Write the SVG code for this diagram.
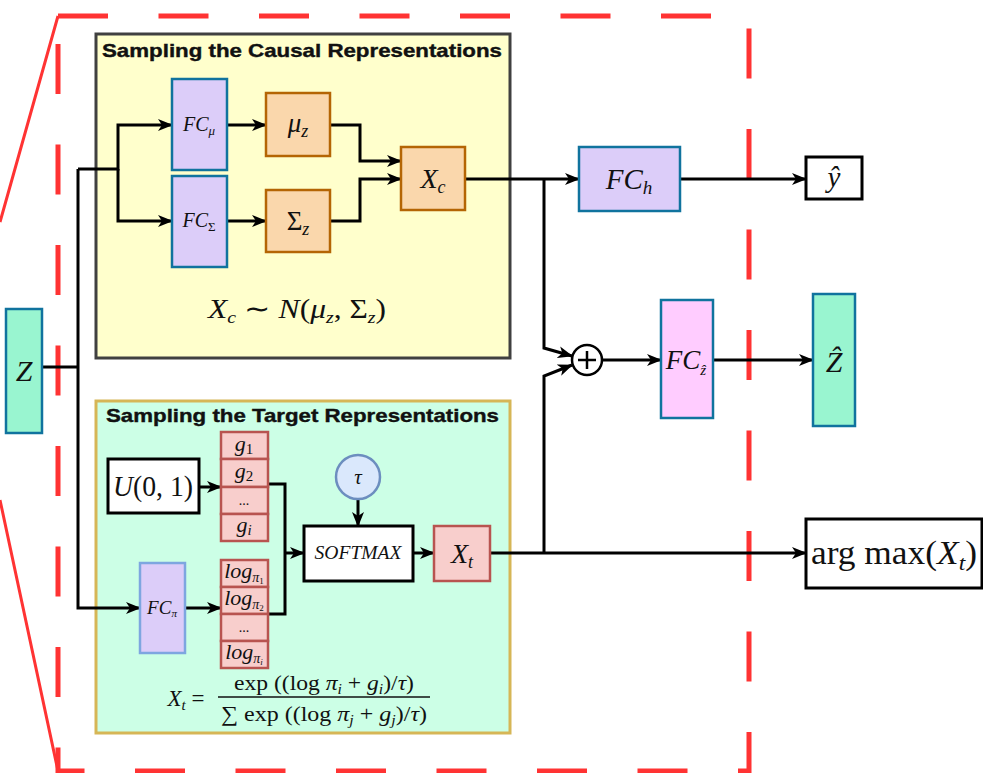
<svg xmlns="http://www.w3.org/2000/svg" width="983" height="773" viewBox="0 0 983 773">
<defs>
<style>
.m{font-family:"Liberation Serif",serif;font-style:italic;fill:#111;text-anchor:middle}
.r{font-family:"Liberation Serif",serif;font-style:normal;fill:#111}
.t{font-family:"Liberation Sans",Arial,sans-serif;font-weight:bold;font-size:19px;fill:#111}
.c{fill:none;stroke:#000;stroke-width:3;stroke-linejoin:miter}
.a{marker-end:url(#ah)}
.fc{fill:#dccdf9;stroke:#10739e;stroke-width:2.5}
.or{fill:#fad7ac;stroke:#b46504;stroke-width:2.5}
.rd{fill:#f8cecc;stroke:#b85450;stroke-width:2.5}
.wb{fill:#fff;stroke:#000;stroke-width:3}
.gz{fill:#99f5d0;stroke:#10739e;stroke-width:2.5}
</style>
<marker id="ah" markerWidth="15" markerHeight="12" refX="14" refY="6" orient="auto" markerUnits="userSpaceOnUse"><path d="M0,0 L15,6 L0,12 L4,6 Z" fill="#000"/></marker>
</defs>
<rect width="983" height="773" fill="#fff"/>

<g id="zoom-frame">
<path d="M58,16 L0,222 M0,500 L58,771" fill="none" stroke="#f33" stroke-width="3"/>
<path d="M58,16 H749 V771 H58 Z" fill="none" stroke="#f33" stroke-width="5" stroke-dasharray="50 50.5"/>
</g>

<g id="causal-panel">
<rect x="96" y="34" width="414" height="324" fill="#ffffcc" stroke="#404040" stroke-width="3"/>
<text class="t" x="102" y="57" textLength="400" lengthAdjust="spacingAndGlyphs" stroke="#111" stroke-width="0.4">Sampling the Causal Representations</text>
<text class="m" x="297" y="318" font-size="27" textLength="178" lengthAdjust="spacingAndGlyphs">X<tspan font-size="17" dy="5">c</tspan><tspan class="r" dy="-5"> ∼ </tspan>N<tspan class="r">(</tspan>μ<tspan font-size="17" dy="5">z</tspan><tspan class="r" dy="-5">, Σ</tspan><tspan font-size="17" dy="5">z</tspan><tspan class="r" dy="-5">)</tspan></text>
</g>

<g id="target-panel">
<rect x="96" y="401" width="414" height="332" fill="#ccffe6" stroke="#d6b656" stroke-width="3"/>
<text class="t" x="106" y="422" textLength="393" lengthAdjust="spacingAndGlyphs" stroke="#111" stroke-width="0.4">Sampling the Target Representations</text>
<text class="m" x="186" y="706" font-size="23">X<tspan font-size="15" dy="4">t</tspan><tspan class="r" dy="-4"> =</tspan></text>
<text class="r" x="324" y="690" font-size="21" text-anchor="middle" textLength="180" lengthAdjust="spacingAndGlyphs">exp ((log <tspan class="m">π</tspan><tspan class="m" font-size="14" dy="4">i</tspan><tspan dy="-4"> + </tspan><tspan class="m">g</tspan><tspan class="m" font-size="14" dy="4">i</tspan><tspan dy="-4">)/</tspan><tspan class="m">τ</tspan>)</text>
<line x1="218" y1="697" x2="430" y2="697" stroke="#111" stroke-width="1.5"/>
<text class="r" x="324" y="721" font-size="21" text-anchor="middle" textLength="206" lengthAdjust="spacingAndGlyphs">∑ exp ((log <tspan class="m">π</tspan><tspan class="m" font-size="14" dy="4">j</tspan><tspan dy="-4"> + </tspan><tspan class="m">g</tspan><tspan class="m" font-size="14" dy="4">j</tspan><tspan dy="-4">)/</tspan><tspan class="m">τ</tspan>)</text>
</g>

<g id="connectors">
<path class="c" d="M42,367 H78"/>
<path class="c a" d="M78,169 V608 H140"/>
<path class="c a" d="M78,169 H118 V125 H172"/>
<path class="c a" d="M118,169 V221 H172"/>
<path class="c a" d="M227,125 H266"/>
<path class="c a" d="M227,221 H266"/>
<path class="c a" d="M330,125 H360 V161 H401"/>
<path class="c a" d="M330,221 H360 V179 H401"/>
<path class="c a" d="M465,179 H579"/>
<path class="c a" d="M544,179 V348 L572,356"/>
<path class="c a" d="M490,553 H806"/>
<path class="c a" d="M544,553 V376 L572,365"/>
<path class="c a" d="M602,360 H661"/>
<path class="c a" d="M713,360 H813"/>
<path class="c a" d="M680,179 H806"/>
<path class="c a" d="M199,487 H221"/>
<path class="c a" d="M185,608 H221"/>
<path class="c" d="M268,484 H285 V614 H268"/>
<path class="c a" d="M285,553 H304"/>
<path class="c a" d="M358,500 V526"/>
<path class="c a" d="M413,553 H434"/>
</g>

<g id="Z">
<rect class="gz" x="6" y="309" width="36" height="124"/>
<text class="m" x="24" y="381" font-size="30">Z</text>
</g>

<g id="FC-mu">
<rect class="fc" x="172" y="79" width="55" height="91"/>
<text class="m" x="199" y="131" font-size="20">FC<tspan font-size="13" dy="4">μ</tspan></text>
</g>

<g id="FC-sigma">
<rect class="fc" x="172" y="176" width="55" height="91"/>
<text class="m" x="199" y="227" font-size="20">FC<tspan class="r" font-size="13" dy="4">Σ</tspan></text>
</g>

<g id="mu-z">
<rect class="or" x="266" y="93" width="64" height="63"/>
<text class="m" x="298" y="132" font-size="27">μ<tspan font-size="18" dy="5">z</tspan></text>
</g>

<g id="sigma-z">
<rect class="or" x="266" y="190" width="64" height="62"/>
<text class="m" x="298" y="230" font-size="27"><tspan class="r">Σ</tspan><tspan font-size="18" dy="5">z</tspan></text>
</g>

<g id="Xc">
<rect class="or" x="401" y="147" width="64" height="63"/>
<text class="m" x="433" y="188" font-size="28">X<tspan font-size="18" dy="5">c</tspan></text>
</g>

<g id="FC-h">
<rect class="fc" x="579" y="147" width="101" height="64"/>
<text class="m" x="629" y="189" font-size="29">FC<tspan font-size="19" dy="5">h</tspan></text>
</g>

<g id="y-hat">
<rect class="wb" x="806" y="157" width="56" height="42"/>
<text class="m" x="834" y="187" font-size="29">ŷ</text>
</g>

<g id="plus">
<circle cx="587" cy="360" r="15" fill="#fff" stroke="#000" stroke-width="2.5"/>
<path d="M578,360 H596 M587,351 V369" stroke="#000" stroke-width="2.5"/>
</g>

<g id="FC-zhat">
<rect x="661" y="300" width="52" height="118" fill="#ffccff" stroke="#10739e" stroke-width="2.5"/>
<text class="m" x="686" y="369" font-size="27">FC<tspan font-size="15" dy="6">ẑ</tspan></text>
</g>

<g id="Z-hat">
<rect class="gz" x="813" y="294" width="42" height="132"/>
<text class="m" x="834" y="372" font-size="30">Ẑ</text>
</g>

<g id="argmax">
<rect class="wb" x="806" y="519" width="176" height="69"/>
<text class="r" x="894" y="564" font-size="33" text-anchor="middle" textLength="166" lengthAdjust="spacingAndGlyphs">arg max(<tspan class="m">X</tspan><tspan class="m" font-size="22" dy="6">t</tspan><tspan dy="-6">)</tspan></text>
</g>

<g id="U01">
<rect class="wb" x="108" y="459" width="91" height="54"/>
<text class="m" x="153" y="496" font-size="29" textLength="80" lengthAdjust="spacingAndGlyphs">U<tspan class="r">(0, 1)</tspan></text>
</g>

<g id="g-column">
<rect class="rd" x="221" y="432" width="47" height="27"/>
<rect class="rd" x="221" y="459" width="47" height="28"/>
<rect class="rd" x="221" y="487" width="47" height="27"/>
<rect class="rd" x="221" y="514" width="47" height="27"/>
<text class="m" x="244" y="451" font-size="22">g<tspan class="r" font-size="15" dy="3">1</tspan></text>
<text class="m" x="244" y="478" font-size="22">g<tspan class="r" font-size="15" dy="3">2</tspan></text>
<text class="r" x="244" y="505" font-size="14" text-anchor="middle">...</text>
<text class="m" x="244" y="532" font-size="22">g<tspan font-size="15" dy="3">i</tspan></text>
</g>

<g id="log-column">
<rect class="rd" x="221" y="560" width="47" height="27"/>
<rect class="rd" x="221" y="587" width="47" height="27"/>
<rect class="rd" x="221" y="614" width="47" height="27"/>
<rect class="rd" x="221" y="641" width="47" height="27"/>
<text class="m" x="244" y="578" font-size="22">log<tspan font-size="14" dy="4">π</tspan><tspan class="r" font-size="9" dy="2">1</tspan></text>
<text class="m" x="244" y="605" font-size="22">log<tspan font-size="14" dy="4">π</tspan><tspan class="r" font-size="9" dy="2">2</tspan></text>
<text class="r" x="244" y="632" font-size="14" text-anchor="middle">...</text>
<text class="m" x="244" y="659" font-size="22">log<tspan font-size="14" dy="4">π</tspan><tspan font-size="9" dy="2">i</tspan></text>
</g>

<g id="FC-pi">
<rect x="140" y="563" width="45" height="90" fill="#dccdf9" stroke="#7ea6e0" stroke-width="2.5"/>
<text class="m" x="162" y="614" font-size="19">FC<tspan font-size="11" dy="3">π</tspan></text>
</g>

<g id="tau">
<circle cx="358" cy="477" r="22" fill="#dae8fc" stroke="#6c8ebf" stroke-width="2.5"/>
<text class="m" x="358" y="484" font-size="21">τ</text>
</g>

<g id="softmax">
<rect class="wb" x="304" y="526" width="109" height="55"/>
<text class="m" x="358" y="559" font-size="18" textLength="87" lengthAdjust="spacingAndGlyphs">SOFTMAX</text>
</g>

<g id="Xt">
<rect class="rd" x="434" y="526" width="56" height="55"/>
<text class="m" x="462" y="563" font-size="28">X<tspan font-size="18" dy="5">t</tspan></text>
</g>
</svg>
